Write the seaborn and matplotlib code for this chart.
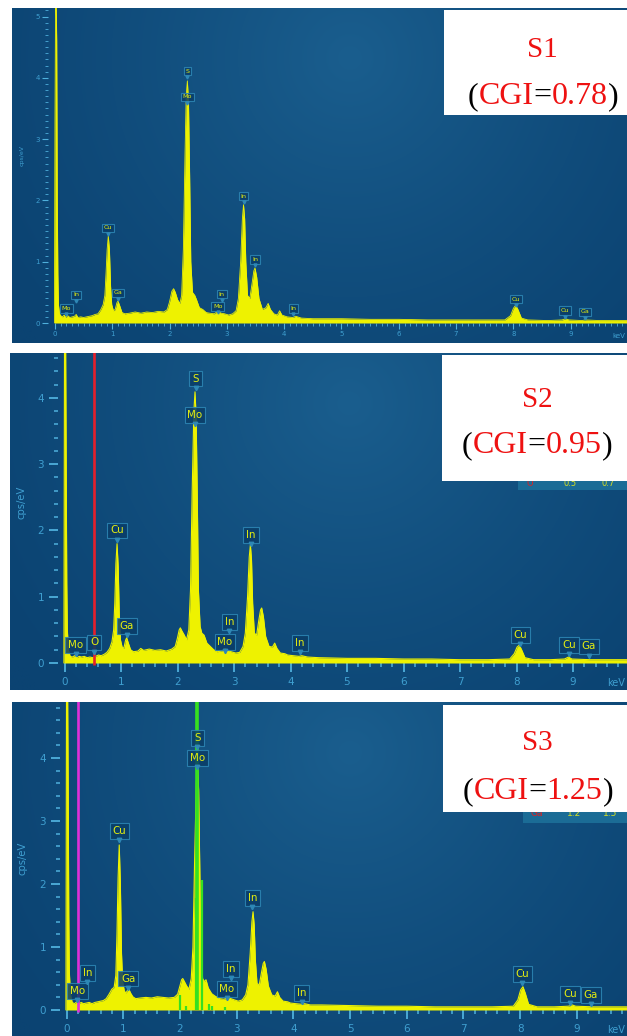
import numpy as np
import matplotlib
matplotlib.use("Agg")
import matplotlib.pyplot as plt
import seaborn as sns
from matplotlib.patches import Rectangle
from matplotlib.transforms import offset_copy
from matplotlib.ticker import FixedLocator

# ---------------- spectra (energy in keV, intensity in cps/eV) ----------------
s1_energy = [-0.01, 0.00, 0.01, 0.02, 0.03, 0.04, 0.05, 0.06, 0.08, 0.10, 0.13, 0.16, 0.19, 0.22,
             0.26, 0.30, 0.34, 0.37, 0.40, 0.45, 0.50, 0.55, 0.60, 0.65, 0.70, 0.75, 0.80, 0.84,
             0.87, 0.89, 0.91, 0.93, 0.95, 0.97, 0.99, 1.02, 1.05, 1.08, 1.10, 1.13, 1.17, 1.22,
             1.30, 1.40, 1.50, 1.60, 1.70, 1.80, 1.90, 1.96, 2.00, 2.04, 2.07, 2.10, 2.14, 2.18,
             2.21, 2.24, 2.27, 2.29, 2.31, 2.33, 2.35, 2.37, 2.40, 2.44, 2.47, 2.52, 2.58, 2.64,
             2.70, 2.78, 2.84, 2.90, 2.96, 3.03, 3.10, 3.16, 3.20, 3.24, 3.27, 3.29, 3.31, 3.33,
             3.36, 3.40, 3.44, 3.47, 3.49, 3.52, 3.56, 3.62, 3.68, 3.72, 3.76, 3.82, 3.88, 3.92,
             3.96, 4.05, 4.15, 4.20, 4.30, 4.50, 5.00, 5.50, 6.00, 6.50, 7.00, 7.50, 7.85, 7.95,
             8.00, 8.04, 8.08, 8.14, 8.25, 8.60, 8.85, 8.91, 8.97, 9.20, 9.25, 9.50, 10.20]
s1_counts = [0.00, 3.30, 5.30, 5.30, 4.60, 2.00, 0.80, 0.30, 0.15, 0.12, 0.10, 0.13, 0.09, 0.12,
             0.09, 0.10, 0.11, 0.14, 0.09, 0.10, 0.09, 0.10, 0.11, 0.12, 0.14, 0.15, 0.22, 0.30,
             0.45, 0.80, 1.20, 1.42, 1.20, 0.60, 0.30, 0.20, 0.22, 0.33, 0.36, 0.28, 0.17, 0.15,
             0.16, 0.18, 0.16, 0.18, 0.17, 0.19, 0.18, 0.22, 0.35, 0.52, 0.56, 0.50, 0.38, 0.32,
             0.45, 1.20, 2.80, 3.70, 3.95, 3.60, 2.40, 1.00, 0.50, 0.45, 0.38, 0.25, 0.22, 0.17,
             0.16, 0.15, 0.19, 0.16, 0.15, 0.13, 0.15, 0.20, 0.40, 1.00, 1.70, 1.93, 1.70, 1.00,
             0.45, 0.40, 0.65, 0.85, 0.90, 0.75, 0.40, 0.22, 0.25, 0.32, 0.22, 0.15, 0.13, 0.20,
             0.13, 0.10, 0.09, 0.11, 0.08, 0.07, 0.07, 0.06, 0.06, 0.05, 0.05, 0.05, 0.05, 0.12,
             0.24, 0.29, 0.22, 0.08, 0.05, 0.04, 0.05, 0.07, 0.05, 0.04, 0.05, 0.04, 0.04]

s2_energy = [-0.01, 0.00, 0.02, 0.03, 0.04, 0.05, 0.07, 0.10, 0.14, 0.18, 0.22, 0.26, 0.30, 0.35,
             0.40, 0.45, 0.50, 0.55, 0.60, 0.65, 0.70, 0.75, 0.80, 0.84, 0.87, 0.89, 0.91, 0.93,
             0.95, 0.97, 0.99, 1.02, 1.05, 1.08, 1.10, 1.13, 1.17, 1.22, 1.30, 1.35, 1.40, 1.50,
             1.60, 1.70, 1.80, 1.90, 1.96, 2.00, 2.03, 2.05, 2.08, 2.12, 2.16, 2.20, 2.23, 2.26,
             2.29, 2.31, 2.33, 2.35, 2.37, 2.40, 2.43, 2.47, 2.52, 2.58, 2.64, 2.70, 2.78, 2.84,
             2.88, 2.95, 3.03, 3.10, 3.16, 3.20, 3.24, 3.27, 3.29, 3.31, 3.33, 3.36, 3.40, 3.44,
             3.47, 3.49, 3.52, 3.56, 3.62, 3.68, 3.72, 3.76, 3.82, 3.90, 3.95, 4.05, 4.15, 4.20,
             4.30, 4.50, 5.00, 5.50, 6.00, 6.50, 7.00, 7.50, 7.88, 7.96, 8.01, 8.05, 8.09, 8.15,
             8.30, 8.60, 8.85, 8.92, 8.98, 9.30, 9.60, 10.20]
s2_counts = [0.00, 4.80, 4.80, 3.00, 1.20, 0.50, 0.20, 0.10, 0.09, 0.11, 0.08, 0.10, 0.09, 0.10,
             0.08, 0.09, 0.08, 0.10, 0.12, 0.11, 0.13, 0.16, 0.22, 0.32, 0.50, 0.90, 1.50, 1.80,
             1.45, 0.70, 0.35, 0.24, 0.22, 0.34, 0.38, 0.30, 0.20, 0.17, 0.18, 0.22, 0.19, 0.21,
             0.19, 0.20, 0.18, 0.21, 0.25, 0.38, 0.50, 0.53, 0.48, 0.42, 0.35, 0.50, 1.10, 2.60,
             3.80, 4.09, 3.70, 2.50, 1.10, 0.55, 0.45, 0.42, 0.30, 0.25, 0.20, 0.17, 0.18, 0.22,
             0.20, 0.17, 0.15, 0.16, 0.25, 0.45, 1.00, 1.60, 1.78, 1.55, 0.90, 0.45, 0.42, 0.65,
             0.80, 0.83, 0.70, 0.40, 0.25, 0.24, 0.30, 0.22, 0.15, 0.14, 0.12, 0.11, 0.10, 0.11,
             0.09, 0.08, 0.07, 0.07, 0.06, 0.06, 0.05, 0.05, 0.06, 0.14, 0.24, 0.27, 0.20, 0.08,
             0.05, 0.05, 0.06, 0.09, 0.06, 0.05, 0.05, 0.05]

s3_energy = [-0.01, 0.00, 0.02, 0.03, 0.04, 0.05, 0.07, 0.10, 0.14, 0.18, 0.22, 0.26, 0.30, 0.35,
             0.40, 0.45, 0.50, 0.55, 0.60, 0.65, 0.70, 0.75, 0.80, 0.84, 0.87, 0.89, 0.91, 0.93,
             0.95, 0.97, 0.99, 1.02, 1.05, 1.08, 1.10, 1.13, 1.17, 1.22, 1.30, 1.40, 1.50, 1.60,
             1.70, 1.80, 1.90, 1.96, 2.00, 2.03, 2.05, 2.08, 2.12, 2.16, 2.20, 2.23, 2.26, 2.29,
             2.31, 2.33, 2.35, 2.37, 2.40, 2.43, 2.46, 2.50, 2.56, 2.62, 2.70, 2.78, 2.84, 2.90,
             2.96, 3.03, 3.10, 3.16, 3.20, 3.24, 3.27, 3.29, 3.31, 3.33, 3.36, 3.40, 3.44, 3.47,
             3.49, 3.52, 3.56, 3.62, 3.68, 3.72, 3.76, 3.82, 3.90, 3.95, 4.05, 4.15, 4.20, 4.30,
             4.50, 5.00, 5.50, 6.00, 6.50, 7.00, 7.50, 7.88, 7.96, 8.01, 8.05, 8.09, 8.15, 8.30,
             8.60, 8.85, 8.92, 8.98, 9.30, 9.60, 10.20]
s3_counts = [0.00, 5.00, 5.00, 3.50, 1.50, 0.60, 0.25, 0.12, 0.10, 0.13, 0.10, 0.12, 0.10, 0.11,
             0.12, 0.10, 0.12, 0.13, 0.14, 0.15, 0.18, 0.25, 0.33, 0.36, 0.55, 1.20, 2.10, 2.62,
             2.00, 0.90, 0.45, 0.30, 0.27, 0.32, 0.33, 0.27, 0.21, 0.18, 0.19, 0.20, 0.19, 0.21,
             0.20, 0.19, 0.20, 0.25, 0.38, 0.48, 0.50, 0.45, 0.38, 0.33, 0.50, 1.00, 2.40, 3.60,
             3.90, 3.50, 2.30, 1.00, 0.50, 0.45, 0.48, 0.35, 0.26, 0.22, 0.18, 0.17, 0.20, 0.18,
             0.16, 0.14, 0.16, 0.24, 0.40, 0.90, 1.40, 1.56, 1.35, 0.80, 0.42, 0.40, 0.60, 0.74,
             0.77, 0.65, 0.38, 0.24, 0.22, 0.29, 0.20, 0.14, 0.13, 0.11, 0.10, 0.09, 0.10, 0.08,
             0.08, 0.07, 0.06, 0.06, 0.05, 0.05, 0.05, 0.06, 0.16, 0.32, 0.37, 0.27, 0.09, 0.05,
             0.05, 0.06, 0.08, 0.06, 0.05, 0.05, 0.05]

# ---------------- peak identification tags ----------------
s1_tags = ["Mo", "In", "Cu", "Ga", "S", "Mo", "Mo", "In", "In", "In", "In", "Cu", "Cu", "Ga"]
s1_tag_energy = [0.20, 0.37, 0.93, 1.10, 2.31, 2.31, 2.84, 2.91, 3.29, 3.49, 4.16, 8.05, 8.90, 9.25]
s1_tag_level = [0.24, 0.46, 1.55, 0.49, 4.11, 3.69, 0.27, 0.47, 2.07, 1.04, 0.24, 0.39, 0.20, 0.18]

s2_tags = ["Mo", "O", "Cu", "Ga", "S", "Mo", "Mo", "In", "In", "In", "Cu", "Cu", "Ga"]
s2_tag_energy = [0.20, 0.53, 0.93, 1.10, 2.32, 2.31, 2.84, 2.92, 3.30, 4.17, 8.07, 8.93, 9.28]
s2_tag_level = [0.27, 0.31, 2.00, 0.56, 4.29, 3.74, 0.32, 0.62, 1.93, 0.30, 0.42, 0.27, 0.25]

s3_tags = ["Mo", "In", "Cu", "Ga", "S", "Mo", "Mo", "In", "In", "In", "Cu", "Cu", "Ga"]
s3_tag_energy = [0.19, 0.37, 0.93, 1.09, 2.31, 2.31, 2.83, 2.90, 3.28, 4.15, 8.04, 8.88, 9.25]
s3_tag_level = [0.30, 0.59, 2.84, 0.50, 4.32, 4.00, 0.33, 0.65, 1.78, 0.27, 0.57, 0.25, 0.24]

# element marker lines
s2_marker_energy = [0.52]
s3_magenta_energy = [0.20]
s3_green_energy = [2.00, 2.10, 2.28, 2.31, 2.39, 2.52, 2.57, 2.80]
s3_green_height = [0.24, 0.06, 1.78, 6.00, 2.06, 0.10, 0.06, 0.05]

sample_names = ["S1", "S2", "S3"]
cgi_values = ["0.78", "0.95", "1.25"]

# ---------------- styling ----------------
sns.set_style("white")
plt.rcParams["font.family"] = ["DejaVu Sans"]

W, H = 627, 1036
fig = plt.figure(figsize=(W / 100, H / 100), dpi=100, facecolor="white")

YELLOW = "#eef200"
TICK = "#4fb0dc"
TICKLBL = "#3f9fd0"


def backdrop(ax, w_px, h_px):
    ny, nx = 200, 200
    xx, yy = np.meshgrid(np.linspace(0, 1, nx), np.linspace(0, 1, ny))
    dx = (xx - 0.55) * w_px
    dy = (yy - 0.85) * h_px
    r = np.sqrt(dx ** 2 + dy ** 2) / 420.0
    t = np.clip(1 - r, 0, 1) ** 1.3
    dark = np.array([11, 67, 114]) / 255.0
    light = np.array([26, 94, 142]) / 255.0
    img = dark[None, None, :] + (light - dark)[None, None, :] * t[..., None]
    ax.imshow(img, extent=[0, 1, 0, 1], transform=ax.transAxes, origin="lower",
              aspect="auto", zorder=0, interpolation="bilinear")


def panel(rect, x0, kx, y0, ky, spine_px, small):
    l, t, r, b = rect
    ax = fig.add_axes([l / W, 1 - b / H, (r - l) / W, (b - t) / H])
    backdrop(ax, r - l, b - t)
    ax.set_xlim((l - x0) / kx, (r - x0) / kx)
    ax.set_ylim((y0 - b) / ky, (y0 - t) / ky)
    for s in ax.spines.values():
        s.set_visible(False)
    ax.spines["left"].set_position(("data", (spine_px - x0) / kx))
    ax.spines["bottom"].set_position(("data", 0))
    step = 0.1 if small else 0.2
    ax.xaxis.set_major_locator(FixedLocator(np.arange(0, 11)))
    ax.yaxis.set_major_locator(FixedLocator(np.arange(0, 6)))
    ax.xaxis.set_minor_locator(FixedLocator(np.arange(0, 10.05, step)))
    ax.yaxis.set_minor_locator(FixedLocator(np.arange(0, 5.25, step)))
    ax.tick_params(which="both", bottom=True, left=True, top=False, right=False)
    if small:
        ax.tick_params(which="major", length=4, width=0.8, color=TICK, labelcolor=TICKLBL,
                       labelsize=5, pad=2, direction="out")
        ax.tick_params(which="minor", length=2, width=0.6, color=TICK, direction="out")
    else:
        ax.tick_params(which="major", length=6.5, width=1.3, color=TICK, labelcolor=TICKLBL,
                       labelsize=7.5, pad=3.5, direction="out")
        ax.tick_params(which="minor", length=3.2, width=1.1, color=TICK, direction="out")
    ax.set_xlabel("")
    ax.set_ylabel("")
    return ax


def spectrum(ax, energy, counts, lw):
    ax.fill_between(energy, 0, counts, color=YELLOW, lw=0, zorder=2)
    sns.lineplot(x=energy, y=counts, ax=ax, color=YELLOW, lw=lw, zorder=2.5,
                 sort=False, estimator=None)
    ax.set_xlabel("")
    ax.set_ylabel("")


def tags(ax, names, energy, level, fs, half_h, ms):
    for n, e, v in zip(names, energy, level):
        ax.text(e, v, n, ha="center", va="center", fontsize=fs, color="#e4ee10",
                zorder=6,
                bbox=dict(boxstyle="square,pad=0.28", fc="#0a3d68", ec="#2e88b6",
                          lw=0.8, alpha=0.85))
        tr = offset_copy(ax.transData, fig=fig, x=0, y=-half_h, units="points")
        ax.plot([e], [v], marker="v", ms=ms, color="#2e88b6", mec="#2e88b6",
                transform=tr, zorder=6, clip_on=False)


# panel geometry in pixels: (left, top, right, bottom), origin px of 0 keV, px/keV,
# baseline px, px per cps/eV, y-axis px
ax1 = panel((12, 8, 627, 343), 55, 57.3, 323, 61.3, 48, True)
ax2 = panel((10, 353, 627, 690), 64.5, 56.5, 663, 66.3, 58, False)
ax3 = panel((12, 702, 627, 1036), 66.5, 56.7, 1010, 63.0, 60, False)

spectrum(ax1, s1_energy, s1_counts, 0.6)
spectrum(ax2, s2_energy, s2_counts, 0.8)
spectrum(ax3, s3_energy, s3_counts, 0.8)

ax2.vlines(s2_marker_energy, -0.03, 6, color="#e5202c", lw=1.9, zorder=3)
ax3.vlines(s3_magenta_energy, -0.03, 6, color="#e030d8", lw=1.9, zorder=3)
ax3.vlines(s3_green_energy, 0, s3_green_height, color="#36e020", lw=1.6, zorder=3)
ax3.vlines([2.31], 0, 6, color="#36e020", lw=2.6, zorder=3)

tags(ax1, s1_tags, s1_tag_energy, s1_tag_level, 4.6, 4.2, 2.2)
tags(ax2, s2_tags, s2_tag_energy, s2_tag_level, 7.4, 6.6, 3.2)
tags(ax3, s3_tags, s3_tag_energy, s3_tag_level, 7.4, 6.6, 3.2)

# axis titles
fig.text(22 / W, 1 - 155 / H, "cps/eV", rotation=90, ha="center", va="center",
         fontsize=4.5, color=TICKLBL)
fig.text(21.5 / W, 1 - 502 / H, "cps/eV", rotation=90, ha="center", va="center",
         fontsize=7.2, color=TICKLBL)
fig.text(22 / W, 1 - 858 / H, "cps/eV", rotation=90, ha="center", va="center",
         fontsize=7.2, color=TICKLBL)
fig.text(625 / W, 1 - 336 / H, "keV", ha="right", va="center", fontsize=5, color=TICKLBL)
fig.text(625 / W, 1 - 683 / H, "keV", ha="right", va="center", fontsize=7, color=TICKLBL)
fig.text(625 / W, 1 - 1030 / H, "keV", ha="right", va="center", fontsize=7, color=TICKLBL)


def frect(l, t, r, b, color, z):
    fig.add_artist(Rectangle((l / W, 1 - b / H), (r - l) / W, (b - t) / H,
                             transform=fig.transFigure, fc=color, ec="none", zorder=z))


# quantification strips peeking out below the sample captions
frect(518, 470, 627, 490, "#1b6c96", 5)
fig.text(530 / W, 1 - 483 / H, "O", color="#e02020", fontsize=6, ha="center", va="center", zorder=6)
fig.text(570 / W, 1 - 483 / H, "0.5", color="#d8e020", fontsize=6, ha="center", va="center", zorder=6)
fig.text(608 / W, 1 - 483 / H, "0.7", color="#d8e020", fontsize=6, ha="center", va="center", zorder=6)
frect(523, 800, 627, 823, "#1b6c96", 5)
fig.text(537 / W, 1 - 813 / H, "Ga", color="#e02020", fontsize=6.5, ha="center", va="center", zorder=6)
fig.text(574 / W, 1 - 813 / H, "1.2", color="#d8e020", fontsize=6.5, ha="center", va="center", zorder=6)
fig.text(610 / W, 1 - 813 / H, "1.5", color="#d8e020", fontsize=6.5, ha="center", va="center", zorder=6)

# sample captions
boxes = [(444, 10, 627, 115), (442, 355, 627, 481), (443, 705, 627, 812)]
name_pos = [(542, 56.7), (537, 406.7), (537.5, 750)]
cgi_pos = [(543, 104), (537, 453), (538, 799)]
RED = "#ee1111"
SERIF = "Liberation Serif"
renderer = fig.canvas.get_renderer()

for (l, t, r, b), (nx, ny), (cx, cy), name, cgi in zip(boxes, name_pos, cgi_pos,
                                                         sample_names, cgi_values):
    frect(l, t, r, b, "white", 10)
    fig.text(nx / W, 1 - ny / H, name, color=RED, fontsize=21, family=SERIF,
             ha="center", va="baseline", zorder=11)
    pieces = [("(", "black"), ("CGI", RED), ("=", "black"), (cgi, RED), (")", "black")]
    arts, widths = [], []
    for s, c in pieces:
        tx = fig.text(0, 0, s, color=c, fontsize=23, family=SERIF, ha="left",
                      va="baseline", zorder=11)
        arts.append(tx)
        widths.append(tx.get_window_extent(renderer).width)
    x = cx - sum(widths) / 2
    for tx, w in zip(arts, widths):
        tx.set_position((x / W, 1 - cy / H))
        x += w

fig.savefig("out.png", dpi=100, facecolor="white")
